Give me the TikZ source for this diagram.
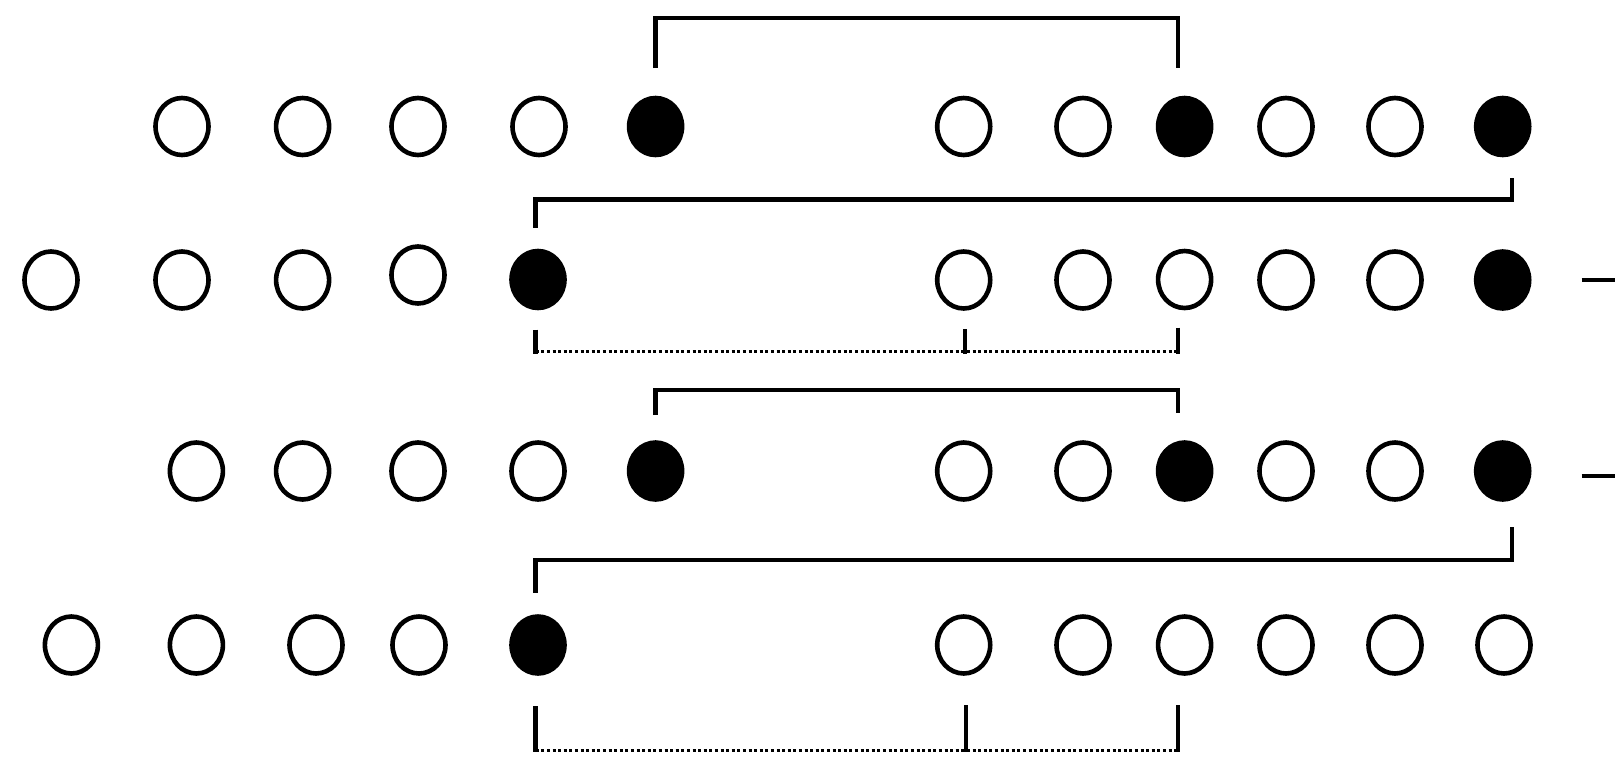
\documentclass[tikz,border=0pt]{standalone}
\usetikzlibrary{shapes.geometric}
\begin{document}
\begin{tikzpicture}[x=1pt,y=-1pt,
  dot/.style={ellipse, draw=black, line width=4.6pt, minimum width=53pt, minimum height=57pt, inner sep=0pt},
  full/.style={dot, fill=black},
  empty/.style={dot, fill=white},
  bracket/.style={line width=4.8pt},
  dotline/.style={line width=3pt, dash pattern=on 3pt off 2.6pt}]
\useasboundingbox[fill=white] (0,0) rectangle (1615,764);

% row 1
\foreach \x/\s [count=\i] in {182/empty,302.6/empty,418/empty,539/empty,655.6/full,963.7/empty,1083/empty,1184.6/full,1286/empty,1395/empty,1502.7/full}
  \node[\s] (r1c\i) at (\x,126.5) {};
% row 2
\foreach \x/\y/\s [count=\i] in {51/280/empty,182/280/empty,302.6/280/empty,418/275/empty,538/279.5/full,963.7/280/empty,1083/280/empty,1184.6/279.5/empty,1286/280/empty,1395/280/empty,1502.7/280/full}
  \node[\s] (r2c\i) at (\x,\y) {};
% row 3
\foreach \x/\s [count=\i] in {196.4/empty,302.6/empty,418/empty,538/empty,655.6/full,963.7/empty,1083/empty,1184.6/full,1286/empty,1395/empty,1502.7/full}
  \node[\s] (r3c\i) at (\x,471) {};
% row 4
\foreach \x/\s [count=\i] in {71.4/empty,196.4/empty,316/empty,419/empty,538/full,963.7/empty,1083/empty,1184.6/empty,1286/empty,1395/empty,1504/empty}
  \node[\s] (r4c\i) at (\x,645) {};

% bracket above row 1
\draw[bracket] ([yshift=58.5pt]r1c5.center) -- ([yshift=108.5pt]r1c5.center) -| ([xshift=-6.6pt,yshift=58.5pt]r1c8.center);
% bracket between row 1 and row 2
\draw[bracket] ([xshift=9.3pt,yshift=-51.5pt]r1c11.center) |- ([xshift=-2.3pt,yshift=80pt]r2c5.center) -- ([xshift=-2.3pt,yshift=52pt]r2c5.center);
% dotted bracket below row 2
\draw[bracket] ([xshift=-2.3pt,yshift=-50pt]r2c5.center) -- ([xshift=-2.3pt,yshift=-74pt]r2c5.center);
\draw[bracket] ([xshift=1.3pt,yshift=-49pt]r2c6.center) -- ([xshift=1.3pt,yshift=-74pt]r2c6.center);
\draw[bracket] ([xshift=-6.6pt,yshift=-48pt]r2c8.center) -- ([xshift=-6.6pt,yshift=-74pt]r2c8.center);
\draw[dotline] ([xshift=-2.3pt,yshift=-72pt]r2c5.center) -- ([xshift=-6.6pt,yshift=-72pt]r2c8.center);

% bracket above row 3
\draw[bracket] ([yshift=56pt]r3c5.center) -- ([yshift=81pt]r3c5.center) -| ([xshift=-6.6pt,yshift=58pt]r3c8.center);
% bracket between row 3 and row 4
\draw[bracket] ([xshift=9.3pt,yshift=-56pt]r3c11.center) |- ([xshift=-2.3pt,yshift=85pt]r4c5.center) -- ([xshift=-2.3pt,yshift=52pt]r4c5.center);
% dotted bracket below row 4
\draw[bracket] ([xshift=-2.3pt,yshift=-61pt]r4c5.center) -- ([xshift=-2.3pt,yshift=-107pt]r4c5.center);
\draw[bracket] ([xshift=2.3pt,yshift=-60pt]r4c6.center) -- ([xshift=2.3pt,yshift=-107pt]r4c6.center);
\draw[bracket] ([xshift=-6.6pt,yshift=-60pt]r4c8.center) -- ([xshift=-6.6pt,yshift=-107pt]r4c8.center);
\draw[dotline] ([xshift=-2.3pt,yshift=-105pt]r4c5.center) -- ([xshift=-6.6pt,yshift=-105pt]r4c8.center);

% lines leaving on the right
\coordinate (e2) at (1615,280);
\coordinate (e3) at (1615,476);
\draw[bracket] ([xshift=79pt]r2c11.center) -- (e2);
\draw[bracket] ([xshift=79pt,yshift=-5pt]r3c11.center) -- (e3);
\end{tikzpicture}
\end{document}
